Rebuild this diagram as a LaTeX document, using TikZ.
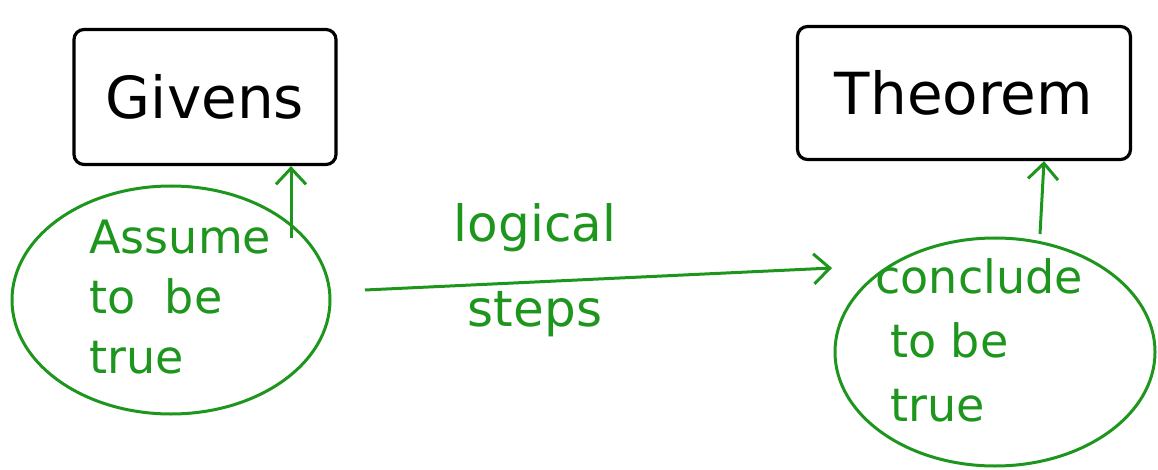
\documentclass[tikz,border=0pt]{standalone}
\usepackage{fontspec}
\setmainfont{DejaVu Sans}
\usetikzlibrary{arrows.meta,shapes.geometric}
\definecolor{pen}{RGB}{30,150,30}
\tikzset{
  box/.style={draw=black, line width=3.2pt, rounded corners=10pt, minimum width=#1},
  box/.default=260pt,
  blob/.style={draw=pen, line width=3pt, ellipse, inner sep=0pt},
  boxtext/.style={font=\fontsize{58}{64}\selectfont, text=black},
  blobtext/.style={font=\fontsize{46}{#1}\selectfont, text=pen, align=left},
  blobtext/.default=58,
  steptext/.style={font=\fontsize{50}{56}\selectfont, text=pen},
  link/.style={draw=pen, line width=3pt, -{Straight Barb[length=16pt, width=30pt, line width=3pt]}},
}
\begin{document}
\begin{tikzpicture}[x=1pt, y=-1pt]
  \useasboundingbox (0,0) rectangle (1158,470);
  % premises and conclusion boxes
  \node[box=262pt, minimum height=135pt] (givens) at (205,97) {};
  \node[boxtext] (givenslabel) at (givens) {Givens};
  \node[box=333pt, minimum height=133pt] (theorem) at (964,93) {};
  \node[boxtext] (theoremlabel) at (theorem) {Theorem};
  % the two ellipses
  \node[blob, minimum width=318pt, minimum height=228pt] (assume) at (171,300) {};
  \node[blobtext=60, anchor=north west] (assumelabel) at (86,216) {Assume\\to\ \ be\\true};
  \node[blob, minimum width=320pt, minimum height=228pt] (conclude) at (995,352) {};
  \node[blobtext=64, anchor=north west] (concludelabel) at (872,255) {conclude\\\ to be\\\ true};
  % reasoning arrow
  \coordinate (from) at (365,290);
  \coordinate (to) at (832,268);
  \draw[link] (from) -- (to);
  \node[steptext] (logical) at (535,228) {logical};
  \node[steptext] (steps) at (535,314) {steps};
  % links from ellipses up to boxes
  \coordinate (a1) at (291,238);
  \coordinate (b1) at (1040,234);
  \draw[link] (a1) -- (givens.south east -| a1);
  \draw[link] (b1) -- (theorem.south -| 1044,0);
\end{tikzpicture}
\end{document}
